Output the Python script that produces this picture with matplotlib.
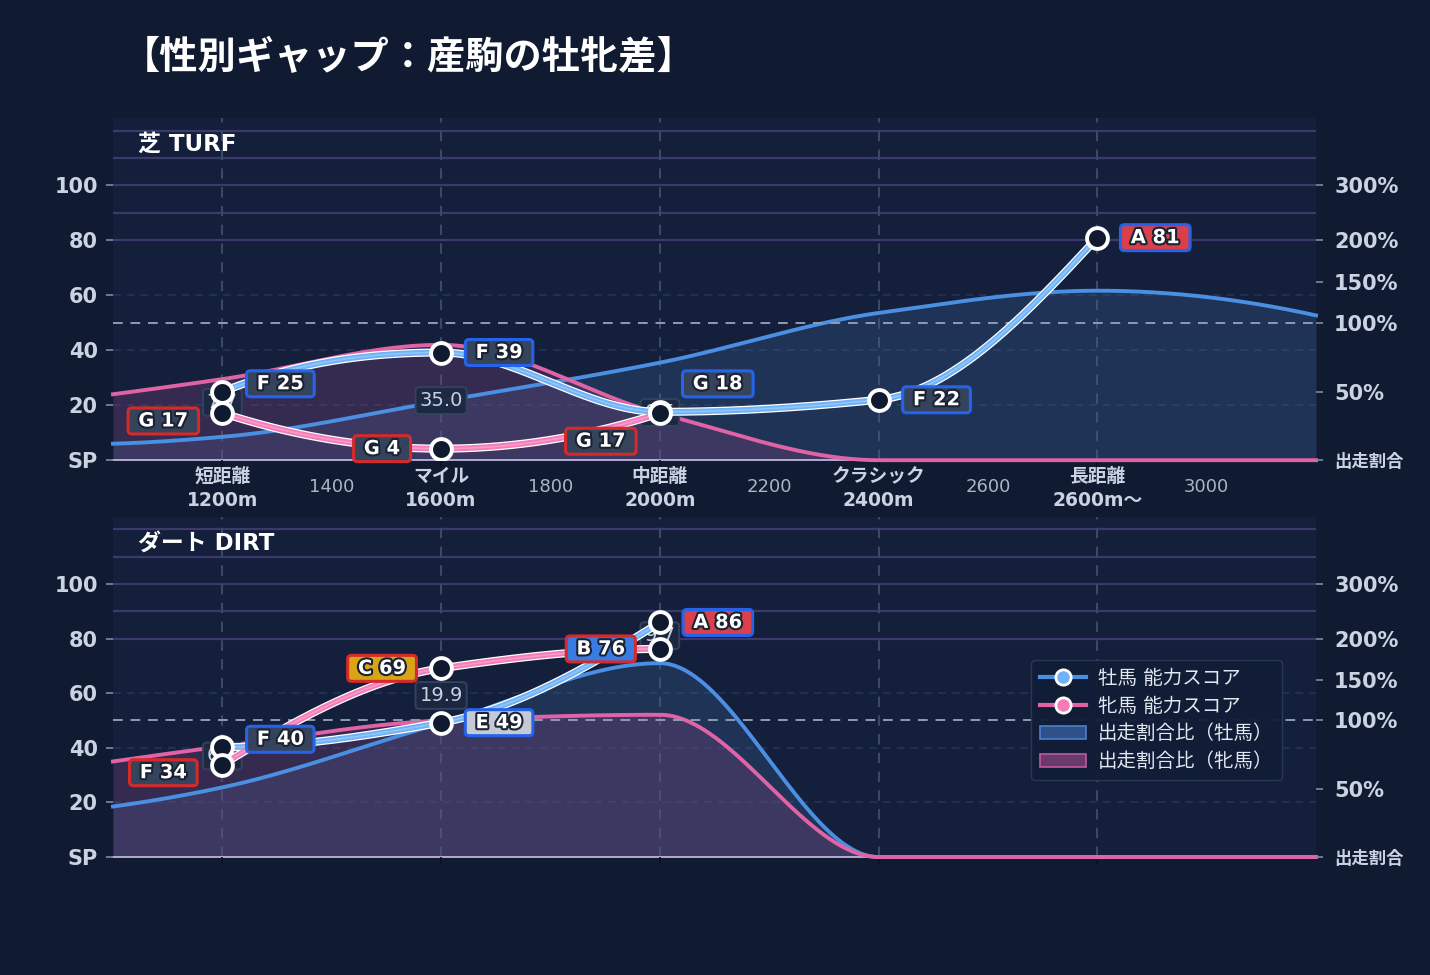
import numpy as np
import matplotlib
matplotlib.use("Agg")
import matplotlib.pyplot as plt
import matplotlib.patheffects as pe
from matplotlib.lines import Line2D
from matplotlib.patches import Patch

plt.rcParams['font.family'] = ['DejaVu Sans', 'Noto Sans CJK JP']

# --- data ---
cats = [1200, 1600, 2000, 2400, 2800]
cat_labels = ['短距離\n1200m', 'マイル\n1600m', '中距離\n2000m', 'クラシック\n2400m', '長距離\n2600m〜']
minor_ticks = [1400, 1800, 2200, 2600, 3000]
minor_labels = ['1400', '1800', '2200', '2600', '3000']

# 出走割合比 (%) at the axis edges and at each category
ratio_x = [1000, 1200, 1600, 2000, 2400, 2800, 3200]
turf_male_ratio = [12, 17, 43, 71, 112, 139, 109]
turf_female_ratio = [48, 59, 84, 34, 0, 0, 0]
dirt_male_ratio = [37, 51, 98, 170, 0, 0, 0]
dirt_female_ratio = [70, 81, 100, 107, 0, 0, 0]

# 能力スコア
turf_male_x = [1200, 1600, 2000, 2400, 2800]
turf_male_score = [24.9, 39.2, 17.6, 22.0, 81.0]
turf_male_grade = ['F', 'F', 'G', 'F', 'A']
turf_female_x = [1200, 1600, 2000]
turf_female_score = [17.2, 4.2, 17.1]
turf_female_grade = ['G', 'G', 'G']

dirt_male_x = [1200, 1600, 2000]
dirt_male_score = [40.2, 49.2, 85.9]
dirt_male_grade = ['F', 'E', 'A']
dirt_female_x = [1200, 1600, 2000]
dirt_female_score = [33.8, 69.1, 76.2]
dirt_female_grade = ['F', 'C', 'B']

# right axis: ratio % -> score scale
pct_anchor = [0, 100, 150, 200, 300]
y_anchor = [0, 50, 65, 80, 100]
right_ticks = [0, 50, 100, 150, 200, 300]
right_labels = ['出走割合', '50%', '100%', '150%', '200%', '300%']

# --- style ---
FIG_BG = '#101a30'
AX_BG = '#131f3b'
BLUE = '#4a8fe2'
PINK = '#e063a6'
BLUE_SCORE = '#6fb2f8'
PINK_SCORE = '#f57cb9'
TXT = '#c9d3e2'
GRADE_FC = {'A': '#d9404a', 'B': '#3a7be3', 'C': '#d9a516', 'D': '#6b7f99',
            'E': '#c3cad6', 'F': '#35445c', 'G': '#35445c'}
MALE_EC = '#2563eb'
FEMALE_EC = '#d42a2a'


def to_y(pct):
    return np.interp(pct, pct_anchor, y_anchor)


def pchip(x, y, xs):
    # monotone cubic through the points, for smooth drawing
    x = np.asarray(x, float)
    y = np.asarray(y, float)
    h = np.diff(x)
    d = np.diff(y) / h
    n = len(x)
    m = np.zeros(n)
    if n == 2:
        m[:] = d[0]
    else:
        for k in range(1, n - 1):
            if d[k - 1] * d[k] > 0:
                w1 = 2 * h[k] + h[k - 1]
                w2 = h[k] + 2 * h[k - 1]
                m[k] = (w1 + w2) / (w1 / d[k - 1] + w2 / d[k])
        for i, (h0, h1, d0, d1) in enumerate([(h[0], h[1], d[0], d[1]),
                                               (h[-1], h[-2], d[-1], d[-2])]):
            e = ((2 * h0 + h1) * d0 - h0 * d1) / (h0 + h1)
            if np.sign(e) != np.sign(d0):
                e = 0
            elif np.sign(d0) != np.sign(d1) and abs(e) > abs(3 * d0):
                e = 3 * d0
            m[0 if i == 0 else -1] = e
    xs = np.asarray(xs, float)
    k = np.clip(np.searchsorted(x, xs) - 1, 0, n - 2)
    t = (xs - x[k]) / h[k]
    h00 = 2 * t**3 - 3 * t**2 + 1
    h10 = t**3 - 2 * t**2 + t
    h01 = -2 * t**3 + 3 * t**2
    h11 = t**3 - t**2
    return h00 * y[k] + h10 * h[k] * m[k] + h01 * y[k + 1] + h11 * h[k] * m[k + 1]


fig = plt.figure(figsize=(14.3, 9.75), dpi=100, facecolor=FIG_BG)
ax_turf = fig.add_axes([0.079, 0.528, 0.8413, 0.3508])
ax_dirt = fig.add_axes([0.079, 0.121, 0.8413, 0.3487])

fig.text(0.085, 0.940, '【性別ギャップ：産駒の牡牝差】', color='white', fontsize=27.5,
         fontweight='bold', va='center', ha='left')


def panel(ax, title, m_ratio, f_ratio, mx, ms, mg, fx, fs, fg, show_x):
    ax.set_facecolor(AX_BG)
    ax.set_xlim(1000, 3200)
    ax.set_ylim(0, 124.5)
    for s in ax.spines.values():
        s.set_visible(False)

    # bands / grid
    for yv in [80, 90, 100, 110, 120]:
        ax.axhline(yv, color='#3b3a6a', lw=1.6, zorder=0.6)
    for yv in [20, 40, 60]:
        ax.axhline(yv, color='#26365a', lw=1.1, ls=(0, (5, 4)), zorder=0.6)
    for xv in cats:
        ax.axvline(xv, color='#3a4968', lw=1.5, ls=(0, (5, 4)), zorder=0.7)

    # ratio areas
    xs = np.linspace(1000, 3200, 800)
    yb = np.clip(pchip(ratio_x, to_y(m_ratio), xs), 0, None)
    yp = np.clip(pchip(ratio_x, to_y(f_ratio), xs), 0, None)
    ax.fill_between(xs, 0, yb, color='#3b6295', alpha=0.3, lw=0, zorder=1)
    ax.fill_between(xs, 0, yp, color='#84447e', alpha=0.3, lw=0, zorder=1.1)
    ax.axhline(0, color='#c6bfe6', lw=1.2, zorder=1.5, clip_on=False)
    ax.plot(xs, yb, color=BLUE, lw=2.8, zorder=2, clip_on=False)
    ax.plot(xs, yp, color=PINK, lw=2.8, zorder=2.1, clip_on=False)
    ax.axhline(50, color='#8f9bb2', lw=1.4, ls=(0, (5, 4)), zorder=2.5)

    # score lines: light band with thin white outline
    for x, s, col in [(mx, ms, BLUE_SCORE), (fx, fs, PINK_SCORE)]:
        xx = np.linspace(x[0], x[-1], 400)
        yy = pchip(x, s, xx)
        ax.plot(xx, yy, color='white', lw=5.8, zorder=5, solid_capstyle='round')
        ax.plot(xx, yy, color=col, lw=4.0, zorder=5.1, solid_capstyle='round')
        ax.plot(xx, yy, color='white', lw=1.2, alpha=0.25, zorder=5.2)
        ax.plot(x, s, ls='none', marker='o', ms=15, mfc='#0f1a30', mec='white',
                mew=2.8, zorder=6)

    # gap labels
    for x, a in zip(mx, ms):
        if x in fx:
            b = fs[fx.index(x)]
            ax.text(x, (a + b) / 2, f'{abs(a - b):.1f}', color='#c8d1de', fontsize=14,
                    ha='center', va='center', zorder=4,
                    bbox=dict(boxstyle='round,pad=0.2,rounding_size=0.2', fc='#1c2842',
                              ec='#34445f', lw=1.4, alpha=0.95))

    # grade labels
    def dy_for(x, s, other_x, other_s):
        if x not in other_x:
            return 0
        o = other_s[other_x.index(x)]
        g = abs(s - o)
        d = 28 if g < 3 else (8 if g < 9 else 0)
        return d if s >= o else -d

    stroke = [pe.withStroke(linewidth=3, foreground='#1b2333')]
    for xs_, ss_, gs_, ox, os_, dx, ec in [(mx, ms, mg, fx, fs, 58, MALE_EC),
                                            (fx, fs, fg, mx, ms, -59, FEMALE_EC)]:
        for x, s, g in zip(xs_, ss_, gs_):
            ax.annotate(f' {g} {s:.0f} ', (x, s), xytext=(dx, dy_for(x, s, ox, os_)),
                        textcoords='offset pixels', ha='center', va='center',
                        color='white', fontsize=14, fontweight='bold', zorder=7,
                        path_effects=stroke,
                        bbox=dict(boxstyle='round,pad=0.18,rounding_size=0.2',
                                  fc=GRADE_FC[g], ec=ec, lw=2.2))

    ax.text(1045, 115, title, color='white', fontsize=16.5, fontweight='bold',
            ha='left', va='center', zorder=8)

    # axes ticks
    ax.set_yticks([0, 20, 40, 60, 80, 100], labels=['SP', '20', '40', '60', '80', '100'])
    ax.tick_params(axis='y', colors='#7d8aa2', labelcolor=TXT, labelsize=15, length=5,
                   width=1.2, pad=6)
    for t in ax.get_yticklabels():
        t.set_fontweight('bold')
    ax.set_xticks(cats)
    ax.tick_params(axis='x', colors='#0b1120', length=5, width=1.2)
    if show_x:
        ax.set_xticklabels(cat_labels)
        ax.set_xticks(minor_ticks, labels=minor_labels, minor=True)
        ax.tick_params(axis='x', which='major', labelcolor=TXT, labelsize=13.5, pad=0)
        ax.tick_params(axis='x', which='minor', labelcolor='#aab5c7', labelsize=13,
                       length=0, pad=13)
        for t in ax.get_xticklabels():
            t.set_fontweight('bold')
            t.set_linespacing(1.3)
    else:
        ax.set_xticklabels([])

    ax2 = ax.twinx()
    ax2.set_ylim(ax.get_ylim())
    for s in ax2.spines.values():
        s.set_visible(False)
    ax2.set_yticks(to_y(right_ticks), labels=right_labels)
    ax2.tick_params(axis='y', colors='#7d8aa2', labelcolor=TXT, labelsize=15, length=5,
                    width=1.2, pad=8)
    for t in ax2.get_yticklabels():
        t.set_fontweight('bold')
    ax2.get_yticklabels()[0].set_fontsize(12.5)
    return ax


panel(ax_turf, '芝 TURF', turf_male_ratio, turf_female_ratio,
      turf_male_x, turf_male_score, turf_male_grade,
      turf_female_x, turf_female_score, turf_female_grade, True)
panel(ax_dirt, 'ダート DIRT', dirt_male_ratio, dirt_female_ratio,
      dirt_male_x, dirt_male_score, dirt_male_grade,
      dirt_female_x, dirt_female_score, dirt_female_grade, False)

handles = [
    Line2D([0], [0], color=BLUE, lw=3, marker='o', ms=11, mfc=BLUE_SCORE, mec='white', mew=2),
    Line2D([0], [0], color=PINK, lw=3, marker='o', ms=11, mfc=PINK_SCORE, mec='white', mew=2),
    Patch(fc='#2f5187', ec='#4a7fd0', lw=1.2),
    Patch(fc='#6a3a6c', ec='#c05a9b', lw=1.2),
]
labels = ['牡馬 能力スコア', '牝馬 能力スコア', '出走割合比（牡馬）', '出走割合比（牝馬）']
leg = ax_dirt.legend(handles, labels, loc='upper left', bbox_to_anchor=(0.763, 0.579),
                     borderaxespad=0, fontsize=14, labelcolor='#e2e8f0',
                     facecolor='#111c36', edgecolor='#2b3a57', framealpha=0.95,
                     handlelength=2.4, borderpad=0.45, labelspacing=0.45,
                     handletextpad=0.6)
leg.set_zorder(10)

fig.savefig('out.png', dpi=100, facecolor=FIG_BG)
